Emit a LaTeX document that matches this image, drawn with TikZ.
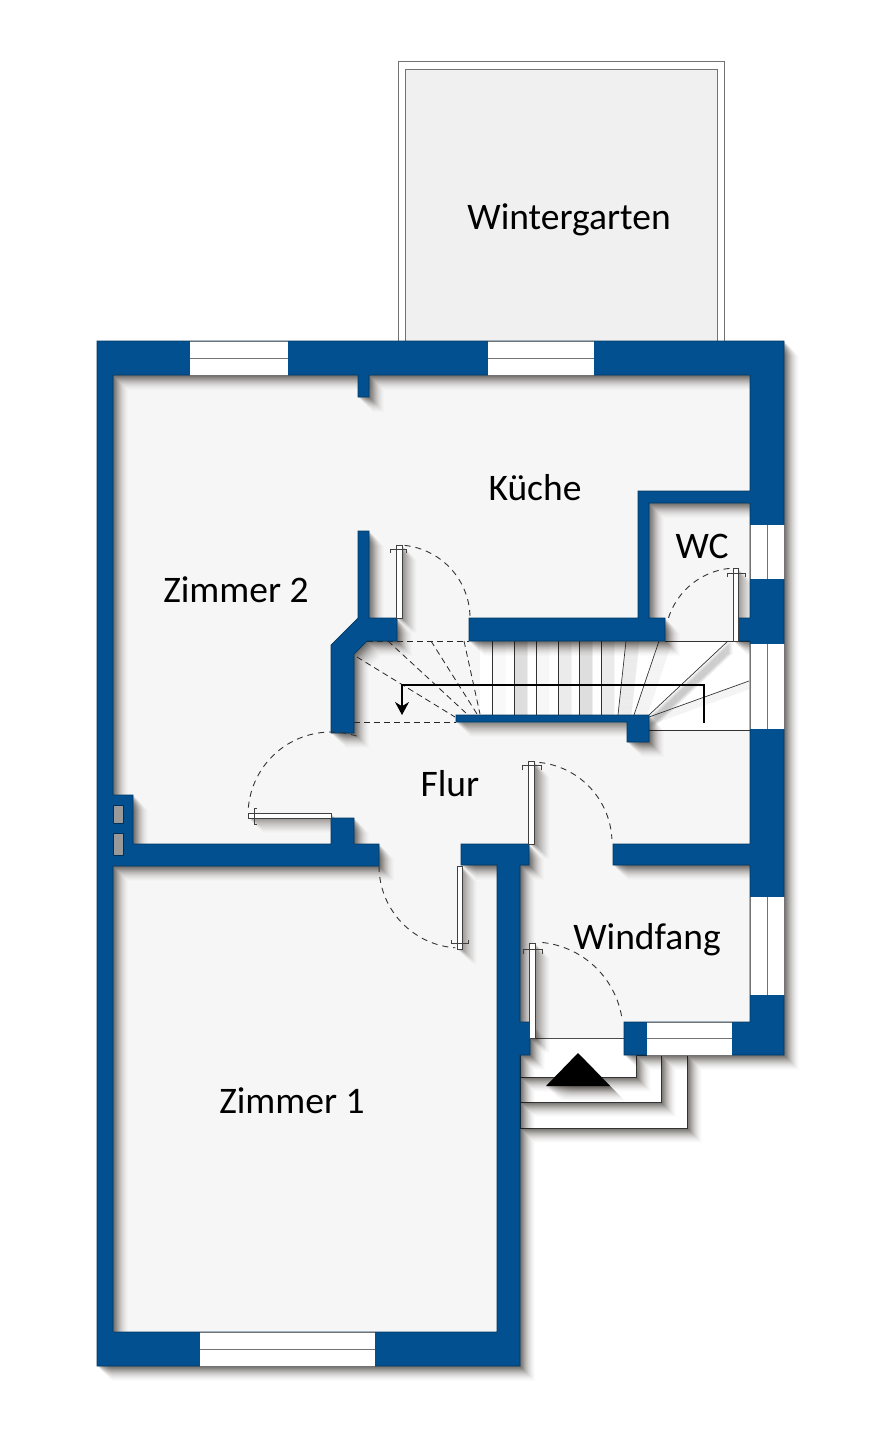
\documentclass[tikz,border=0pt]{standalone}
\usepackage{fontspec}
\setmainfont{Carlito}
\usetikzlibrary{arrows.meta}
\definecolor{wallblue}{HTML}{02508F}
\definecolor{floorgrey}{HTML}{F6F6F6}
\definecolor{wintergrey}{HTML}{F0F0F0}
\definecolor{shadowtone}{HTML}{1E1610}
\newcommand{\wallpath}{(97,341) -- (784,341) -- (784,1055) -- (624,1055) -- (624,1022) -- (750,1022) -- (750,865) -- (613,865) -- (613,844) -- (750,844) -- (750,641) -- (738,641) -- (738,618) -- (750,618) -- (750,503) -- (649,503) -- (649,618) -- (665,618) -- (665,641) -- (469,641) -- (469,618) -- (638,618) -- (638,491) -- (750,491) -- (750,375) -- (369,375) -- (369,397) -- (358,397) -- (358,375) -- (113,375) -- (113,795) -- (133,795) -- (133,844) -- (331,844) -- (331,818) -- (354,818) -- (354,844) -- (379,844) -- (379,866) -- (113,866) -- (113,1332) -- (497,1332) -- (497,865) -- (461,865) -- (461,844) -- (529,844) -- (529,865) -- (520,865) -- (520,1022) -- (530,1022) -- (530,1055) -- (520,1055) -- (520,1366) -- (97,1366) -- cycle
(358,531) -- (369,531) -- (369,618) -- (397,618) -- (397,641) -- (367,641) -- (354,654) -- (354,733) -- (331,733) -- (331,645) -- (358,618) -- cycle
(456,715) -- (649,715) -- (649,742) -- (627,742) -- (627,722) -- (456,722) -- cycle}
\newcommand{\softshadow}[1]{\foreach \s/\o in {1/.1,2/.1,3/.1,4/.09,5/.08,6/.07,7/.06,8/.05,9/.045,10/.04,11/.03,12/.025,13/.02,14/.015,15/.01}
  {\fill[shadowtone,opacity=\o,shift={(\s,\s)}] #1;}}
\newcommand{\doorarc}[5]{\draw[swingline] plot[domain=#4:#5,samples=40] ({#1+#3*cos(\x)},{#2-#3*sin(\x)});}
\tikzset{
  wallshape/.style={fill=wallblue,draw=wallblue!70!black,line width=.7pt},
  windowbox/.style={draw=black!55,line width=.9pt},
  doorleaf/.style={fill=white,draw=black!75,line width=.6pt},
  swingline/.style={draw=black!80,line width=.9pt,dash pattern=on 6pt off 5pt},
  bracketline/.style={draw=black!75,line width=.7pt},
  stairdash/.style={draw=black!85,line width=.8pt,dash pattern=on 6pt off 4pt},
  treadline/.style={draw=black!80,line width=.7pt},
  stepbox/.style={fill=white,draw=black!80,line width=.8pt},
  roomlabel/.style={font=\fontsize{37.5}{37.5}\selectfont,text=black,inner sep=0pt,anchor=base}
}
\begin{document}
\begin{tikzpicture}[x=1pt,y=-1pt]
\useasboundingbox (0,0) rectangle (874,1440);
\fill[white] (0,0) rectangle (874,1440);

\draw[fill=white,draw=black!55,line width=.9pt] (398,341) -- (398,61) -- (724,61) -- (724,341);
\draw[fill=wintergrey,draw=black!55,line width=.9pt] (405.5,341) -- (405.5,69) -- (717,69) -- (717,341);

\fill[floorgrey] (113,375) rectangle (750,1038);
\fill[floorgrey] (113,866) rectangle (497,1332);

\softshadow{(520,1055) rectangle (687,1128)}
\draw[stepbox] (520,1055) rectangle (687,1128);
\softshadow{(520,1055) rectangle (661,1102)}
\draw[stepbox] (520,1055) rectangle (661,1102);
\softshadow{(520,1055) rectangle (636,1077)}
\draw[stepbox] (520,1038) rectangle (636,1077);
\softshadow{(546,1086) -- (578,1053) -- (610,1086) -- cycle}
\fill[black] (546,1086) -- (578,1053) -- (610,1086) -- cycle;
\draw[black!70,line width=.8pt] (530,1038) -- (624,1038);

\fill[white] (480,641) -- (750,641) -- (750,730) -- (649,730) -- (649,715) -- (480,715) -- cycle;
\foreach \xa/\xb/\o in {492/492/.01,514/514/.065,536/536/.016,558/558/.04,579/579/.065,601/601/.04,626/618/.06,659/634/.03}
{
  \foreach \s in {1,2,...,13}
    \draw[black,opacity=\o,line width=1.2pt,shift={(\s,0)}] (\xa,641) -- (\xb,715);
  \draw[treadline] (\xa,641) -- (\xb,715);
}
\foreach \s in {1,2,...,12}
  \fill[black,opacity=.04,shift={(0,\s)}] (728,641) -- (649,715) -- (655,715) -- (733,641) -- cycle;
\foreach \s in {1,2,...,8}
  \draw[black,opacity=.03,line width=1.2pt,shift={(0,\s)}] (749,681) -- (649,717);
\fill[floorgrey] (649,730.5) rectangle (750,745);
\draw[treadline] (728,641) -- (649,715);
\draw[treadline] (749,681) -- (649,717);
\draw[treadline] (649,730) -- (750,730);
\draw[treadline] (665,641) -- (750,641);

\softshadow{\wallpath}
\softshadow{(248,813) rectangle (331,818)}
\softshadow{(457,866) rectangle (462,949)}
\softshadow{(529,762) rectangle (535,844)}
\softshadow{(529,943) rectangle (535,1038)}
\softshadow{(396,545) rectangle (402,618)}
\softshadow{(733,568) rectangle (738,641)}

\draw[stairdash] (367,641) -- (469,641);
\draw[stairdash] (354,722) -- (456,722);
\draw[stairdash] (464,641) -- (480,714);
\draw[stairdash] (431,641) -- (477,714);
\draw[stairdash] (388,641) -- (467,714);
\draw[stairdash] (357,657) -- (455,717);
\draw[black,line width=1.1pt,-{Stealth[length=13pt,width=14pt]}] (704,723) -- (704,685) -- (402,685) -- (402,715);

\draw[wallshape] \wallpath;
\draw[fill=black!40,draw=wallblue!60!black,line width=.8pt] (113,805) rectangle (123,823);
\draw[fill=black!40,draw=wallblue!60!black,line width=.8pt] (113,833) rectangle (123,855);

\foreach \xa/\xb/\ya/\yb in {190/288/341/375,488/594/341/375,200/375/1332/1366,647/732/1022/1055}
{
  \fill[white] (\xa,\ya) rectangle (\xb,\yb);
  \draw[windowbox] (\xa,\ya) -- (\xb,\ya) (\xa,{(\ya+\yb)/2}) -- (\xb,{(\ya+\yb)/2}) (\xa,\yb) -- (\xb,\yb);
}
\foreach \ya/\yb in {525/579,644/729,897/995}
{
  \fill[white] (750,\ya) rectangle (784,\yb);
  \draw[windowbox] (750,\ya) -- (750,\yb) (767,\ya) -- (767,\yb) (784,\ya) -- (784,\yb);
}

\draw[doorleaf] (248,813) rectangle (331,818);
\draw[bracketline] (257,808) -- (254,808) -- (254,824) -- (257,824);
\doorarc{331}{815}{83}{72}{178}
\draw[doorleaf] (457,866) rectangle (462,949);
\draw[bracketline] (451,940) -- (451,943) -- (468,943) -- (468,940);
\doorarc{461}{866}{82}{180}{266}
\draw[doorleaf] (528.5,761) rectangle (534.5,844);
\draw[bracketline] (522,770) -- (522,765) -- (541,765) -- (541,770);
\doorarc{531}{843}{81}{84}{3}
\draw[doorleaf] (529,943) rectangle (535,1038);
\draw[bracketline] (523,954) -- (523,949) -- (542,949) -- (542,954);
\doorarc{533}{1032}{90}{84}{7}
\draw[doorleaf] (396,545) rectangle (402,618);
\draw[bracketline] (390,553) -- (390,549) -- (406,549) -- (406,553);
\doorarc{397}{618}{73}{84}{0}
\draw[doorleaf] (733,568) rectangle (738,641);
\draw[bracketline] (727,577) -- (727,573) -- (745,573) -- (745,577);
\doorarc{737}{640}{72}{96}{164}

\node[roomlabel] (wintergarten) at (569,229) {Wintergarten};
\node[roomlabel] (kueche) at (535,500) {Küche};
\node[roomlabel] (zimmerzwei) at (236,602) {Zimmer 2};
\node[roomlabel] (wc) at (702,558) {WC};
\node[roomlabel] (flur) at (450,796) {Flur};
\node[roomlabel] (windfang) at (647,949) {Windfang};
\node[roomlabel] (zimmereins) at (292,1113) {Zimmer 1};
\end{tikzpicture}
\end{document}
